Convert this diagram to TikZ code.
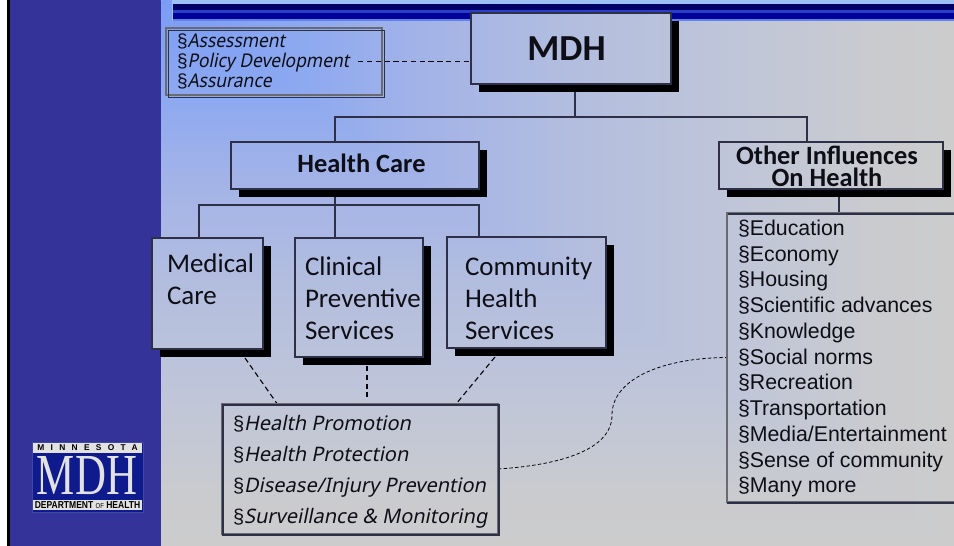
\documentclass[tikz,border=0pt]{standalone}
\usepackage{fontspec}
\usepackage{graphicx}
\usetikzlibrary{shadows}
\setmainfont{Liberation Sans}
\newfontfamily\carl{Carlito}
\newfontfamily\slnt[FakeSlant=0.2]{Noto Sans}
\newfontfamily\slntn[FakeSlant=0.2,FakeStretch=0.92]{Noto Sans}
\newfontfamily\logoserif{Liberation Serif}
\newcommand\lstmark{{\rmfamily\upshape §}}
\pgfdeclarelayer{under}
\pgfsetlayers{under,main}
\pgfdeclarehorizontalshading{bgshadeh}{100bp}{rgb(0bp)=(.482,.612,.961); rgb(18bp)=(.553,.663,.941); rgb(32bp)=(.635,.70,.91); rgb(55bp)=(.71,.749,.867); rgb(70bp)=(.745,.773,.855); rgb(90bp)=(.792,.796,.812); rgb(100bp)=(.8,.8,.8)}
\pgfdeclareverticalshading{bgshadev}{200bp}{rgb(0bp)=(.8,.8,.8); rgb(10bp)=(.792,.796,.812); rgb(30bp)=(.745,.773,.855); rgb(45bp)=(.71,.749,.867); rgb(68bp)=(.635,.70,.91); rgb(82bp)=(.553,.663,.941); rgb(100bp)=(.482,.612,.961)}
\definecolor{edge}{HTML}{2E3048}
\definecolor{greyedge}{HTML}{6A6A72}
\definecolor{ink}{HTML}{0E0E16}
\definecolor{sidebar}{HTML}{333399}
\definecolor{logonavy}{HTML}{0F1A8C}
\definecolor{logopale}{HTML}{E2E2E2}
\definecolor{bandlight}{HTML}{9CC0F4}
\definecolor{bandnavy}{HTML}{000066}
\definecolor{bandmid}{HTML}{2A3FC8}
\definecolor{bandblue}{HTML}{000099}
\definecolor{bandedge}{HTML}{5F82E6}
% the rectangular corner gradient: upper right half runs left to right, lower left half top to bottom
\newcommand\paintbg[2]{%
  \node[inner sep=0pt,outer sep=0pt,xscale=5.925,yscale=4.08,transform shape] at ({557.5-(#1)},{273-(#2)}) {\pgfuseshading{bgshadeh}};
  \begin{scope}
    \clip ({161-(#1)},{0-(#2)}) -- ({100-(#1)},{0-(#2)}) -- ({100-(#1)},{546-(#2)}) -- ({954-(#1)},{546-(#2)}) -- cycle;
    \node[inner sep=0pt,outer sep=0pt,xscale=5.925,yscale=4.08,transform shape] at ({557.5-(#1)},{273-(#2)}) {\pgfuseshading{bgshadev}};
  \end{scope}}
\tikzset{
  x=0.75pt,y=-0.75pt,
  sized/.style 2 args={minimum width=#1*0.75pt,minimum height=#2*0.75pt,inner sep=0pt,outer sep=0pt},
  shadowbox/.style 2 args={rectangle,draw=edge,line width=0.9pt,
    general shadow={fill=black,shadow xshift=6pt,shadow yshift=-6pt},
    path picture={\paintbg{#1}{#2}}},
  greybox/.style={rectangle,draw=greyedge,line width=2pt},
  plainbox/.style={rectangle,draw=greyedge,line width=0.8pt},
  conn/.style={draw=edge,line width=0.9pt},
  dashconn/.style={draw=black!85!edge,line width=0.85pt,dash pattern=on 4pt off 2.6pt},
  thindash/.style={draw=black!85!edge,line width=0.6pt,dash pattern=on 2.6pt off 1.7pt},
  txt/.style={inner sep=0pt,outer sep=0pt,text=ink,anchor=north west,align=left},
  head/.style={inner sep=0pt,outer sep=0pt,text=ink,align=center},
}
\begin{document}
\begin{tikzpicture}
\useasboundingbox (0,0) rectangle (954,546);

% boxes
\node[shadowbox={571}{48.5},sized={200}{71}] (mdh) at (571,48.5) {};
\node[shadowbox={355}{165.5},sized={248}{47}] (hc) at (355,165.5) {};
\node[shadowbox={831}{165.5},sized={224}{47}] (oi) at (831,165.5) {};
\node[shadowbox={207.5}{293.5},sized={111}{111}] (med) at (207.5,293.5) {};
\node[shadowbox={359}{297.5},sized={128}{119}] (cl) at (359,297.5) {};
\node[shadowbox={526.5}{292.5},sized={159}{111}] (com) at (526.5,292.5) {};
\node[greybox,sized={276}{130}] (hl) at (360,469) {};
\node[sized={227}{289}] (rl) at (840.5,357.5) {};
\node[plainbox,sized={216}{67}] (as) at (274,61.5) {};

% box edges
\draw[edge,line width=0.9pt] ([shift={(1,1)}]hl.north west) rectangle ([shift={(1,1)}]hl.south east);
\draw[greyedge,line width=2.2pt] (rl.north east) -- (rl.north west) -- (rl.south west) -- (rl.south east);
\draw[edge,line width=0.9pt] ([shift={(1,1)}]rl.north east) -- ([shift={(1,1)}]rl.north west);
\draw[edge,line width=0.9pt] ([shift={(0,1)}]rl.south west) -- ([shift={(0,1)}]rl.south east);
\draw[edge,line width=0.8pt] ([shift={(2.5,2.5)}]as.north west) rectangle ([shift={(2.5,2.5)}]as.south east);

% texts
\node[head,font=\carl\bfseries\fontsize{27.5}{27.5}\selectfont] (mdhT) at (566.5,49) {MDH};
\node[head,font=\carl\bfseries\fontsize{19.8}{22}\selectfont] (hcT) at (361.5,163) {Health Care};
\node[head,font=\carl\bfseries\fontsize{19.8}{16.5}\selectfont] (oiT) at (827,166) {Other Influences\\On Health};
\node[txt,font=\carl\fontsize{20.2}{24}\selectfont] (medT) at (167,254) {Medical\\Care};
\node[txt,font=\carl\fontsize{20.2}{24}\selectfont] (clT) at (305,257) {Clinical\\Preventive\\Services};
\node[txt,font=\carl\fontsize{20.2}{24}\selectfont] (comT) at (465,257) {Community\\Health\\Services};
\node[txt,font=\slntn\fontsize{14.2}{15}\selectfont] (asT) at (177,34) {\lstmark Assessment\\\lstmark Policy Development\\\lstmark Assurance};
\node[txt,font=\slnt\fontsize{15}{23.25}\selectfont] (hlT) at (233,415) {\lstmark Health Promotion\\\lstmark Health Protection\\\lstmark Disease/Injury Prevention\\\lstmark Surveillance \& Monitoring};
\node[txt,font=\fontsize{16}{19.3}\selectfont] (rlT) at (738,220) {§Education\\§Economy\\§Housing\\§Scientific advances\\§Knowledge\\§Social norms\\§Recreation\\§Transportation\\§Media/Entertainment\\§Sense of community\\§Many more};

% logo
\node[rectangle,fill=logonavy,draw=logonavy!80!white,line width=0.5pt,sized={111}{70}] (logo) at (87.5,477) {};
\node[rectangle,fill=logopale,sized={109}{10},text=black,font=\bfseries\fontsize{6.3}{6.3}\selectfont] (logoA) at (87.5,448) {\addfontfeature{LetterSpace=75}MINNESOTA};
\node[rectangle,fill=logopale,sized={109}{10},text=black] (logoC) at (87.5,505) {\resizebox{79pt}{5.2pt}{\bfseries DEPARTMENT {\fontsize{7}{7}\selectfont\mdseries OF} HEALTH}};
\node[inner sep=0pt,outer sep=0pt,text=logopale] (logoB) at (87,476) {\resizebox{75pt}{28.5pt}{\logoserif MDH}};

% everything below the boxes
\begin{pgfonlayer}{under}
  \fill[white] (0,0) rectangle (954,546);
  \begin{scope}
    \clip (161,0) rectangle (954,546);
    \paintbg{0}{0}
  \end{scope}
  \fill[black] (7,0) rectangle (10,546);
  \fill[sidebar] (10,0) rectangle (161,546);
  % title band
  \fill[bandlight] (172,0) rectangle (954,21);
  \fill[bandnavy] (173,4) rectangle (954,10);
  \fill[bandmid] (173,10) rectangle (954,13);
  \fill[bandblue] (173,13) rectangle (954,19);
  \fill[bandedge] (173,19) rectangle (954,21);
  \coordinate (t1) at (575,117);
  \coordinate (a1) at (335,117);
  \coordinate (a2) at (807,117);
  \coordinate (b0) at (199,205);
  \coordinate (b1) at (335,205);
  \coordinate (b2) at (479,205);
  \coordinate (c0) at (839,200);
  \draw[conn] (mdh.south -| t1) -- (t1);
  \draw[conn] (hc.north -| a1) -- (a1) -- (a2) -- (oi.north -| a2);
  \draw[conn] (hc.south -| b1) -- (cl.north -| b1);
  \draw[conn] (med.north -| b0) -- (b0) -- (b2) -- (com.north -| b2);
  \draw[conn] (oi.south -| c0) -- (rl.north -| c0);
  \coordinate (pd) at (358,61);
  \draw[dashconn,line width=0.6pt] (pd) -- (pd -| mdh.west);
  \coordinate (m1) at (245,358);
  \coordinate (m2) at (278,405);
  \coordinate (n1) at (367,366);
  \coordinate (n2) at (367,397);
  \coordinate (p1) at (495,357);
  \coordinate (p2) at (456,404);
  \draw[dashconn] (m1) -- (m2);
  \draw[dashconn] (n1) -- (n2);
  \draw[dashconn] (p1) -- (p2);
  \draw[thindash] (hl.east) .. controls (560,465) and (612,450) .. (612,415) .. controls (612,380) and (660,358) .. (rl.west);
\end{pgfonlayer}
\end{tikzpicture}
\end{document}
